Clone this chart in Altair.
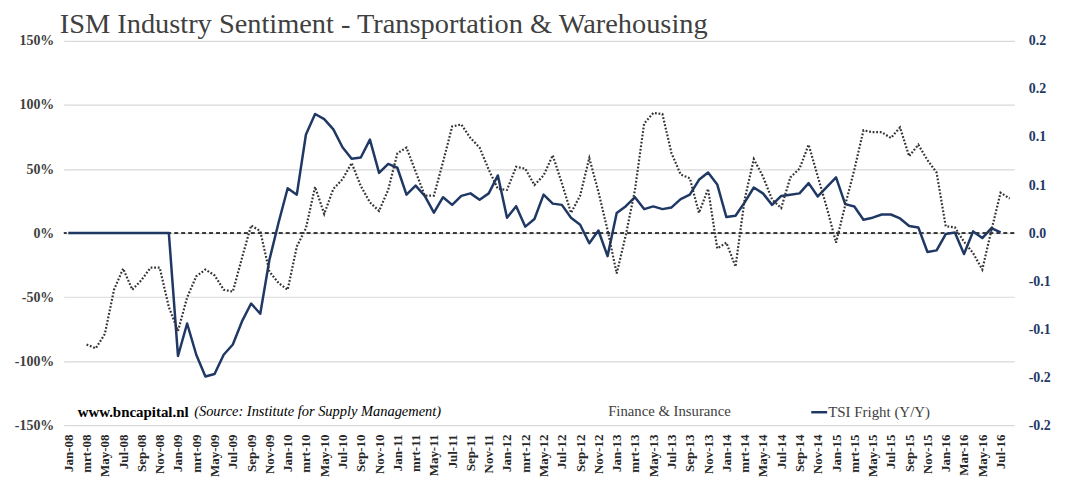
import altair as alt
import pandas as pd

month_names = ["Jan", "feb", "mrt", "apr", "May", "jun", "Jul", "aug", "Sep", "okt", "Nov", "dec"]
month_names_16 = ["Jan", "feb", "Mar", "apr", "May", "jun", "Jul", "aug"]
years = ["08", "09", "10", "11", "12", "13", "14", "15"]
months = [f"{m}-{y}" for y in years for m in month_names] + [f"{m}-16" for m in month_names_16]

# TSI Fright (Y/Y), left axis (%), Jan-08 .. Jul-16
tsi = [0, 0, 0, 0, 0, 0, 0, 0, 0, 0, 0, 0,
       -96, -70.6, -95, -112, -110, -95, -87, -69, -55, -63, -21, 8,
       35, 30, 77, 93, 89, 81, 67, 58, 59, 73, 47, 54,
       51, 30, 37, 29, 16, 28, 22, 29, 31, 26, 31, 45,
       12, 21, 5, 11, 30, 23, 22, 12, 6.5, -8, 2, -18,
       15.6, 21, 28, 18.7, 20.8, 18.7, 20, 26.5, 30, 41.6, 47.3, 38,
       12.5, 13.5, 24, 35.6, 31, 22, 29, 30, 31, 39, 28.6, 36,
       43.5, 22.6, 20.8, 10.4, 12, 14.5, 14.5, 11.4, 5.5, 4.4, -14.8, -13.5,
       -0.8, 0.5, -16.4, 1.3, -3.9, 3.9, 0.5]

# Finance & Insurance, right axis, Mar-08 .. Aug-16
fin = [-0.116, -0.120, -0.105, -0.059, -0.037, -0.059, -0.049, -0.036, -0.036, -0.077,
       -0.102, -0.067, -0.045, -0.038, -0.044, -0.059, -0.061, -0.026, 0.008, 0.002, -0.040, -0.052,
       -0.059, -0.014, 0.005, 0.048, 0.020, 0.046, 0.056, 0.073, 0.049, 0.032, 0.023, 0.045,
       0.083, 0.089, 0.064, 0.039, 0.039, 0.074, 0.111, 0.113, 0.099, 0.089, 0.066, 0.046,
       0.045, 0.069, 0.067, 0.050, 0.060, 0.081, 0.052, 0.021, 0.039, 0.078, 0.043, 0.003,
       -0.042, -0.002, 0.045, 0.114, 0.125, 0.124, 0.083, 0.061, 0.057, 0.021, 0.046, -0.016,
       -0.010, -0.035, 0.035, 0.077, 0.059, 0.035, 0.026, 0.058, 0.067, 0.092, 0.059, 0.026,
       -0.010, 0.029, 0.066, 0.107, 0.105, 0.105, 0.099, 0.110, 0.080, 0.092, 0.076, 0.063,
       0.007, 0.006, -0.009, -0.021, -0.038, 0.003, 0.042, 0.036]

left_ticks = [-150, -100, -50, 0, 50, 100, 150]
right_ticks = [-0.2, -0.15, -0.1, -0.05, 0.0, 0.05, 0.1, 0.15, 0.2]

tsi_df = pd.DataFrame({"month": months[:len(tsi)], "v": tsi})
fin_df = pd.DataFrame({"month": months[len(months) - len(fin):], "v": fin})

FONT = "Liberation Serif"
NAVY = "#1F3864"
DARK = "#404040"

x_enc = alt.X("month:N", sort=months, title=None,
              scale=alt.Scale(type="point", padding=0.5),
              axis=alt.Axis(values=months[::2], labelAngle=270, labelFont=FONT,
                            labelFontWeight="bold", labelFontSize=13, labelColor="#262626",
                            labelPadding=9, domain=False, ticks=False, grid=False,
                            labelOverlap=False))

solid = alt.Chart(tsi_df).mark_line(color=NAVY, strokeWidth=2.5, strokeJoin="round").encode(
    x=x_enc,
    y=alt.Y("v:Q", title=None,
            scale=alt.Scale(domain=[-150, 150], nice=False, zero=False),
            axis=alt.Axis(values=left_ticks, labelExpr="datum.value + '%'", orient="left",
                          labelFont=FONT, labelFontWeight="bold", labelFontSize=14,
                          labelColor=DARK, labelPadding=10, domain=False, ticks=False,
                          grid=True, gridColor="#d9d9d9", gridWidth=1.2)),
)

zero = alt.Chart(pd.DataFrame({"z": [0]})).mark_rule(
    color="black", strokeWidth=1.4, strokeDash=[4, 3]
).encode(y=alt.Y("z:Q", scale=alt.Scale(domain=[-150, 150], nice=False, zero=False)))

left = alt.layer(zero, solid)

dotted = alt.Chart(fin_df).mark_line(
    color="#333333", strokeWidth=2.2, strokeDash=[1.8, 1.8], strokeCap="butt"
).encode(
    x=x_enc,
    y=alt.Y("v:Q", title=None,
            scale=alt.Scale(domain=[-0.2, 0.2], nice=False, zero=False),
            axis=alt.Axis(values=right_ticks, orient="right",
                          labelExpr="(datum.value < 0 ? '-' : '') + format(round(abs(datum.value) * 10) / 10, '.1f')",
                          labelFont=FONT, labelFontWeight="bold", labelFontSize=14,
                          labelColor=NAVY, labelPadding=14, domain=False, ticks=False,
                          grid=False)),
)

one = pd.DataFrame({"a": [0]})
title = alt.Chart(one).mark_text(
    text="ISM Industry Sentiment - Transportation & Warehousing", font=FONT, fontSize=28.5,
    color=DARK, align="left", baseline="alphabetic"
).encode(x=alt.value(-4), y=alt.value(-8))

src1 = alt.Chart(one).mark_text(
    text="www.bncapital.nl", font=FONT, fontSize=15, fontWeight="bold", color="black",
    align="left", baseline="middle"
).encode(x=alt.value(14), y=alt.value(373))
src2 = alt.Chart(one).mark_text(
    text="(Source: Institute for Supply Management)", font=FONT, fontSize=14.5, fontStyle="italic",
    color="black", align="left", baseline="middle"
).encode(x=alt.value(131), y=alt.value(373))
leg1 = alt.Chart(one).mark_text(
    text="Finance & Insurance", font=FONT, fontSize=14.8, color=DARK, align="left", baseline="middle"
).encode(x=alt.value(547), y=alt.value(373))
leg_line = alt.Chart(one).mark_rule(color=NAVY, strokeWidth=2.5).encode(
    x=alt.value(751), x2=alt.value(767), y=alt.value(373))
leg2 = alt.Chart(one).mark_text(
    text="TSI Fright (Y/Y)", font=FONT, fontSize=15, color=DARK, align="left", baseline="middle"
).encode(x=alt.value(768), y=alt.value(373))

main = alt.layer(left, dotted).resolve_scale(y="independent")

chart = alt.layer(main, title, src1, src2, leg1, leg_line, leg2).properties(
    width=955, height=386,
    autosize=alt.AutoSizeParams(type="none"),
    padding={"left": 56, "top": 32, "right": 60, "bottom": 60},
).configure_view(stroke=None)

chart.save("out.html", embed_options={"renderer": "svg", "actions": False})
